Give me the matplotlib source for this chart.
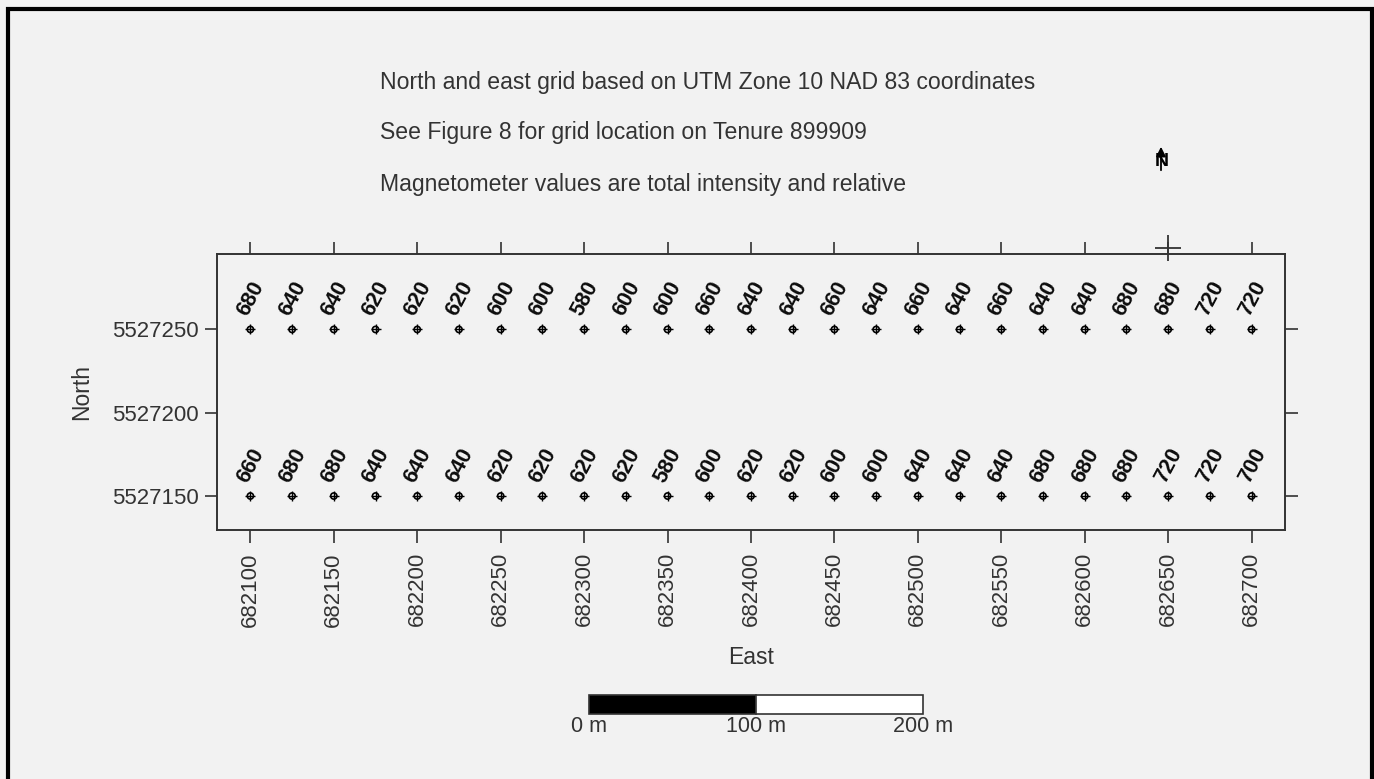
import numpy as np
import matplotlib
matplotlib.use("Agg")
import matplotlib.pyplot as plt
from matplotlib.patches import Rectangle
from matplotlib.transforms import blended_transform_factory

plt.rcParams["font.family"] = ["Liberation Sans", "DejaVu Sans"]

# Magnetometer stations along two survey lines (UTM Zone 10, NAD 83)
east = np.arange(682100, 682701, 25)
north_line = 5527250
south_line = 5527150

mag_north = [680, 640, 640, 620, 620, 620, 600, 600, 580, 600, 600, 660, 640,
             640, 660, 640, 660, 640, 660, 640, 640, 680, 680, 720, 720]
mag_south = [660, 680, 680, 640, 640, 640, 620, 620, 620, 620, 580, 600, 620,
             620, 600, 600, 640, 640, 640, 680, 680, 680, 720, 720, 700]

notes = ["North and east grid based on UTM Zone 10 NAD 83 coordinates",
         "See Figure 8 for grid location on Tenure 899909",
         "Magnetometer values are total intensity and relative"]

bg = "#f2f2f2"
ink = "#333333"

W, H = 1374, 779
fig = plt.figure(figsize=(W / 100, H / 100), dpi=100, facecolor=bg)
ax = fig.add_axes([217 / W, 1 - 530 / H, (1285 - 217) / W, (530 - 254) / H])
ax.set_facecolor(bg)

for y, vals in [(north_line, mag_north), (south_line, mag_south)]:
    ys = np.full(len(east), y)
    ax.scatter(east, ys, s=20, marker="o", facecolors="none",
               edgecolors="black", linewidths=1.2, zorder=3)
    ax.scatter(east, ys, s=55, marker="+", color="black",
               linewidths=1.0, zorder=3)
    for x, v in zip(east, vals):
        ax.annotate(str(v), (x, y), xytext=(0.5, 22), textcoords="offset points",
                    ha="center", va="center", rotation=62, fontsize=15.5,
                    fontweight="bold", color="#0d0d0d")

ax.set_xlim(682080, 682720)
ax.set_ylim(5527129.6, 5527295.3)
ax.set_xticks(np.arange(682100, 682701, 50))
ax.set_yticks([5527150, 5527200, 5527250])
ax.ticklabel_format(useOffset=False, style="plain")
ax.tick_params(axis="both", direction="out", length=9, width=1.2, color=ink,
               labelsize=16, labelcolor=ink, top=True, right=True)
ax.tick_params(axis="x", pad=7, labelrotation=90)
ax.tick_params(axis="y", pad=4)
for sp in ax.spines.values():
    sp.set_color(ink)
    sp.set_linewidth(1.4)

ax.set_xlabel("East", fontsize=16.5, color=ink, labelpad=14)
ax.set_ylabel("North", fontsize=16.5, color=ink, labelpad=14)

# grid origin cross and north arrow
ax.plot([682650], [5527299], marker="+", markersize=19, mew=1.3,
        color=ink, clip_on=False, zorder=4)
ax.annotate("", xy=(1161 / W, 1 - 144 / H), xytext=(1161 / W, 1 - 173 / H),
            xycoords="figure fraction", textcoords="figure fraction",
            arrowprops=dict(arrowstyle="-|>", color="black", lw=1.3,
                            mutation_scale=14))
fig.text(1162 / W, 1 - 162 / H, "N", fontsize=14, fontweight="bold",
         ha="center", va="center", color="black")

for i, line in enumerate(notes):
    fig.text(380 / W, 1 - (82 + 51 * i) / H, line, fontsize=16.6, color=ink,
             ha="left", va="center")

# scale bar, 100 m per segment
trans = blended_transform_factory(ax.transData, fig.transFigure)
x0 = 682303
y0, bh = 1 - 714 / H, 19 / H
ax.add_patch(Rectangle((x0, y0), 100, bh, transform=trans, facecolor="black",
                       edgecolor=ink, lw=1.2, clip_on=False))
ax.add_patch(Rectangle((x0 + 100, y0), 100, bh, transform=trans,
                       facecolor="white", edgecolor=ink, lw=1.2, clip_on=False))
for k, lab in enumerate(["0 m", "100 m", "200 m"]):
    ax.text(x0 + 100 * k, 1 - 727 / H, lab, transform=trans, fontsize=15.5,
            color=ink, ha="center", va="center")

# page border
fig.add_artist(Rectangle((8 / W, -0.05), (1372 - 8) / W, 1.05 - 9 / H,
                         transform=fig.transFigure, fill=False,
                         edgecolor="black", lw=3))

fig.savefig("out.png", dpi=100, facecolor=bg)
